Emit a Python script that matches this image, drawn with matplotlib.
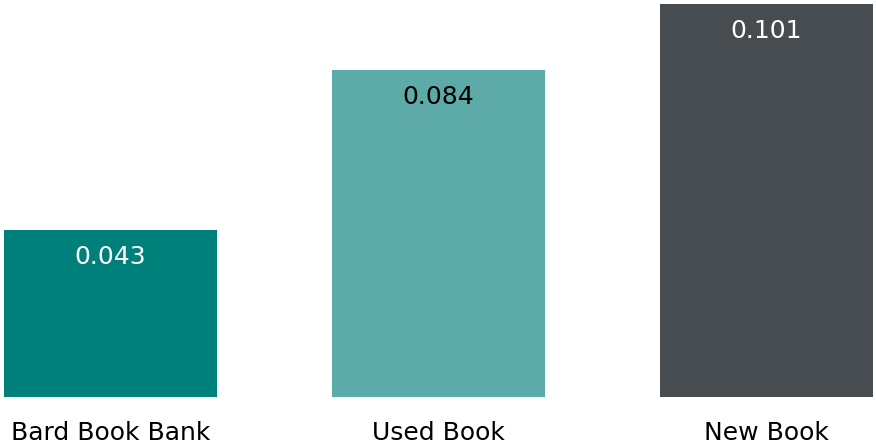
import matplotlib
matplotlib.use("Agg")
import matplotlib.pyplot as plt

categories = ["Bard Book Bank", "Used Book", "New Book"]
values = [0.043, 0.084, 0.101]
bar_colors = ["#00807a", "#5caba8", "#474c50"]
text_colors = ["white", "black", "white"]


def main():
    fig = plt.figure(figsize=(8.76, 4.47), dpi=100)
    ax = fig.add_axes([4 / 876, 50 / 447, 869 / 876, 393 / 447])

    x = list(range(len(categories)))
    bars = ax.bar(x, values, width=0.65, color=bar_colors)

    # value labels just inside the top of each bar
    for bar, v, c in zip(bars, values, text_colors):
        ax.annotate("%.3f" % v, (bar.get_x() + bar.get_width() / 2, v),
                    xytext=(0, -27), textcoords="offset pixels",
                    ha="center", va="center", color=c, fontsize=18,
                    family="DejaVu Sans")

    ax.set_xlim(-0.325, 2.325)
    ax.set_ylim(0, 0.101)
    ax.set_xticks(x)
    ax.set_xticklabels(categories, fontsize=18, family="DejaVu Sans")
    ax.tick_params(axis="x", length=0, pad=17)
    ax.set_yticks([])
    for s in ax.spines.values():
        s.set_visible(False)

    fig.savefig("out.png", dpi=100)


if __name__ == '__main__':
    main()
